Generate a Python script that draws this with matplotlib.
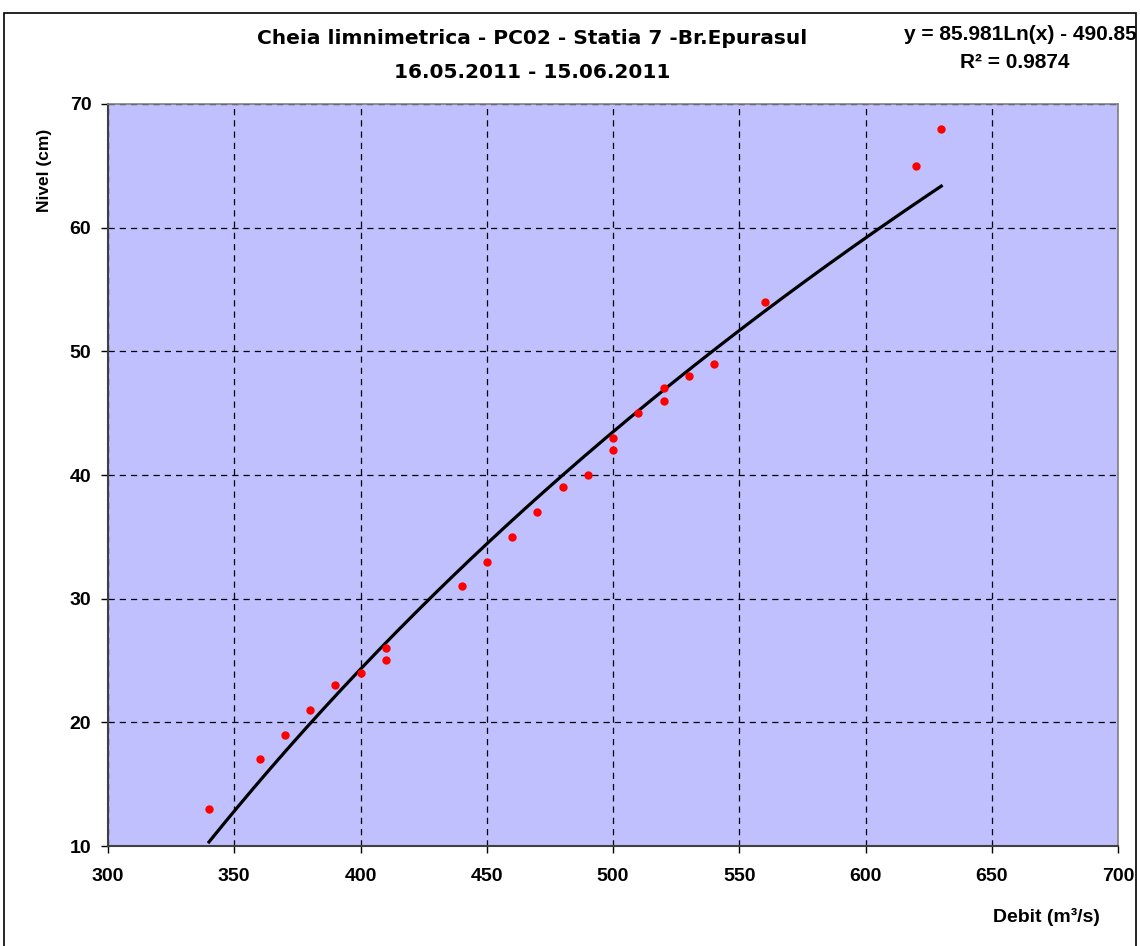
import numpy as np
import matplotlib.pyplot as plt
from matplotlib.patches import Rectangle

# data
debit = [340, 360, 370, 380, 390, 400, 410, 410, 440, 450, 460, 470, 480, 490,
         500, 500, 510, 520, 520, 530, 540, 560, 620, 630]
nivel = [13, 17, 19, 21, 23, 24, 26, 25, 31, 33, 35, 37, 39, 40,
         43, 42, 45, 47, 46, 48, 49, 54, 65, 68]
# logarithmic trendline as printed on the chart
coef_a, coef_b = 85.981, -490.85
r2 = 0.9874

xticks = list(range(300, 701, 50))
yticks = list(range(10, 71, 10))

plt.rcParams['font.family'] = ['Liberation Sans', 'DejaVu Sans']

fig = plt.figure(figsize=(11.4, 9.46), dpi=100)
fig.patch.set_facecolor('white')
fig.patches.append(Rectangle((4/1140, -0.01), 1132/1140, 1 - 13/946 + 0.01,
                             transform=fig.transFigure, fill=False,
                             edgecolor='black', linewidth=1.2))

ax = fig.add_axes([108/1140, 100/946, 1010/1140, 742/946])
ax.set_facecolor('#C0C0FF')

xs = np.linspace(min(debit), max(debit), 200)
ax.plot(xs, coef_a*np.log(xs) + coef_b, color='black', lw=2.3, zorder=3)
ax.plot(debit, nivel, 'o', color='red', ms=5, zorder=4)

ax.set_xlim(300, 700)
ax.set_ylim(10, 70)
ax.set_xticks(xticks)
ax.set_yticks(yticks)
ax.grid(True, color='black', linestyle=(0, (5, 4)), linewidth=0.9)
ax.set_axisbelow(True)
for s in ['left', 'bottom']:
    ax.spines[s].set_color('#404040')
    ax.spines[s].set_linewidth(1.5)
for s in ['top', 'right']:
    ax.spines[s].set_color('#808080')
    ax.spines[s].set_linewidth(1.2)
ax.tick_params(direction='out', length=5, width=1, labelsize=14)
ax.tick_params(axis='x', pad=11)
ax.tick_params(axis='y', pad=7)
for lab in ax.get_xticklabels() + ax.get_yticklabels():
    lab.set_fontweight('bold')

fig.text(532/1140, 1 - 38/946, 'Cheia limnimetrica - PC02 - Statia 7 -Br.Epurasul',
         ha='center', va='center', fontsize=14.5, fontweight='bold', family='DejaVu Sans')
fig.text(532/1140, 1 - 73/946, '16.05.2011 - 15.06.2011',
         ha='center', va='center', fontsize=14.5, fontweight='bold', family='DejaVu Sans')
fig.text(1137/1140, 1 - 34/946, f'y = {coef_a}Ln(x) - {abs(coef_b)}',
         ha='right', va='center', fontsize=15, fontweight='bold')
fig.text(1015/1140, 1 - 63/946, f'R² = {r2}',
         ha='center', va='center', fontsize=15, fontweight='bold')
fig.text(45/1140, 1 - 170/946, 'Nivel (cm)', rotation=90,
         ha='center', va='center', fontsize=12.5, fontweight='bold')
fig.text(1046/1140, 1 - 917/946, 'Debit (m³/s)',
         ha='center', va='center', fontsize=14, fontweight='bold')

fig.savefig('out.png', dpi=100)
